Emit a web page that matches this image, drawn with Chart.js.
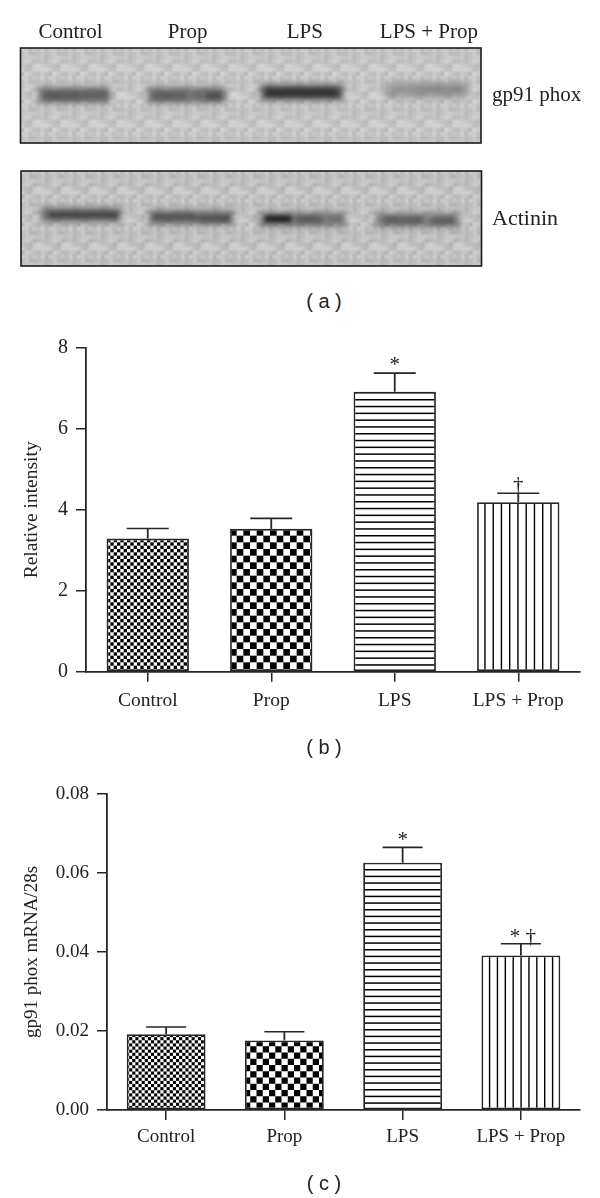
<!DOCTYPE html>
<html><head><meta charset="utf-8">
<style>
html,body{margin:0;padding:0;background:#fff;width:600px;height:1198px;overflow:hidden}
canvas{position:absolute;left:0}
.t{position:absolute;color:#222;white-space:nowrap;line-height:1}
.s{font-family:"Liberation Serif",serif;font-size:21px}
.c{font-family:"Liberation Sans",sans-serif;font-size:20px;transform:translateX(-50%)}
</style>
<script src="https://cdn.jsdelivr.net/npm/chart.js@4"></script>
</head><body>
<canvas id="blotA" style="top:0"></canvas>
<canvas id="blotB" style="top:150px"></canvas>
<canvas id="chartB" style="top:330px"></canvas>
<canvas id="chartC" style="top:780px"></canvas>
<div class="t s" style="left:492px;top:84px">gp91 phox</div>
<div class="t s" style="left:492px;top:207px;font-size:22px">Actinin</div>
<div class="t c" style="left:324px;top:291px">( a )</div>
<div class="t c" style="left:324px;top:737px">( b )</div>
<div class="t c" style="left:324px;top:1173px">( c )</div>
<script>
// ---------- data ----------
const categories = ['Control', 'Prop', 'LPS', 'LPS + Prop'];

const intensityMeans = [3.29, 3.53, 6.92, 4.19];
const intensityUpper = [3.54, 3.79, 7.38, 4.41];
const intensityMarks = ['', '', '*', '†'];
const intensityTicks = [0, 2, 4, 6, 8];

const mrnaMeans = [0.0192, 0.0176, 0.0626, 0.0391];
const mrnaUpper = [0.0210, 0.0198, 0.0665, 0.0421];
const mrnaMarks = ['', '', '*', '* †'];
const mrnaTicks = [0, 0.02, 0.04, 0.06, 0.08];

// blot lanes: lane position of each header label, then [start, end] of each band
const laneLabelPositions = [50, 167, 284, 408];
const gpBandExtents = [[18, 89], [127, 205], [240, 322], [365, 446]];
const gpBandMigration = [47, 47, 43, 40];
const gpCoreExtents = [[24, 60], [62, 86], [132, 165], [175, 188], [186, 200], [246, 316], [395, 440]];
const gpCoreMigration = [48, 47, 48, 47, 48, 43, 38];
const actBandExtents = [[20, 100], [128, 212], [238, 324], [354, 438]];
const actBandMigration = [42, 46, 49, 50];
const actCoreExtents = [[28, 96], [132, 175], [178, 208], [244, 270], [275, 300], [362, 400], [410, 432]];
const actCoreMigration = [42, 45, 48, 48, 49, 50, 51];

// ---------- styling helpers ----------
const INK = '#262626';
const SERIF = '"Liberation Serif", serif';

// tiles are whole native pixels so that the hatching keeps an even rhythm
function tile(w, h, ox, oy, paint) {
  const c = document.createElement('canvas');
  c.width = w; c.height = h;
  const g = c.getContext('2d');
  g.fillStyle = '#fff'; g.fillRect(0, 0, w, h);
  g.fillStyle = '#000'; paint(g);
  const p = g.createPattern(c, 'repeat');
  p.setTransform(new DOMMatrix().translate(Math.round(ox), Math.round(oy)));
  return p;
}
const checker = (size, periods, ox, oy) => tile(size, size, ox, oy, g => {
  const s = size / periods / 2;
  for (let a = 0; a < periods * 2; a++) for (let b = 0; b < periods * 2; b++) {
    if ((a + b) % 2 === 0) g.fillRect(a * s, b * s, s, s);
  }
});
const hLines = (size, periods, oy, lw) => tile(4, size, 0, oy, g => {
  for (let a = 0; a < periods; a++) g.fillRect(0, a * size / periods, 4, lw);
});
const vLines = (size, periods, ox, lw) => tile(size, 4, ox, 0, g => {
  for (let a = 0; a < periods; a++) g.fillRect(a * size / periods, 0, lw, 4);
});

const errorBarPlugin = {
  id: 'errorBars',
  afterDatasetsDraw(chart, args, o) {
    const { ctx, scales: { y } } = chart, bars = chart.getDatasetMeta(0).data;
    ctx.save();
    ctx.strokeStyle = INK; ctx.fillStyle = '#222';
    ctx.font = o.markFont; ctx.textAlign = 'center'; ctx.textBaseline = 'alphabetic';
    bars.forEach((bar, i) => {
      const top = y.getPixelForValue(o.upper[i]);
      ctx.lineWidth = 1.8;
      ctx.beginPath(); ctx.moveTo(bar.x, bar.y); ctx.lineTo(bar.x, top); ctx.stroke();
      ctx.lineWidth = 1.6;
      ctx.beginPath(); ctx.moveTo(bar.x - o.cap, top); ctx.lineTo(bar.x + o.cap, top); ctx.stroke();
      if (o.marks[i]) ctx.fillText(o.marks[i], bar.x + (o.marks[i].length > 1 ? 2 : 0), top - o.gap);
    });
    ctx.restore();
  }
};

function barChart(id, height, frame, cfg) {
  const el = document.getElementById(id);
  el.width = 600; el.height = height;
  return new Chart(el, {
    type: 'bar',
    plugins: [errorBarPlugin],
    data: {
      labels: categories,
      datasets: [{
        data: cfg.values,
        backgroundColor: cfg.patterns,
        borderColor: INK,
        borderWidth: 1.8,
        borderSkipped: false,
        barPercentage: 2 / 3,
        categoryPercentage: 1
      }]
    },
    options: {
      responsive: false, animation: false, devicePixelRatio: 1,
      layout: { padding: { top: frame.top, right: 20, left: 0, bottom: 0 } },
      plugins: {
        legend: { display: false }, tooltip: { enabled: false },
        errorBars: { upper: cfg.upper, marks: cfg.marks, cap: cfg.cap, gap: cfg.markGap, markFont: `${cfg.markSize}px ${SERIF}` }
      },
      scales: {
        x: {
          afterFit(s) { s.height = frame.xHeight; s.paddingLeft = 0; s.paddingRight = 0; },
          grid: { offset: false, drawOnChartArea: false, drawTicks: true, tickLength: 10, tickColor: INK, lineWidth: 1.5 },
          border: { color: INK, width: 1.8 },
          ticks: { color: '#222', font: { family: SERIF, size: cfg.fontSize }, padding: cfg.xPad, maxRotation: 0 }
        },
        y: {
          min: cfg.ticks[0], max: cfg.ticks[cfg.ticks.length - 1],
          afterFit(s) { s.width = frame.yWidth; s.paddingTop = 0; s.paddingBottom = 0; },
          afterBuildTicks(s) { s.ticks = cfg.ticks.map(value => ({ value })); },
          grid: { drawOnChartArea: false, tickLength: 10, tickColor: INK, lineWidth: 1.5 },
          border: { color: INK, width: 1.8 },
          ticks: { color: '#222', font: { family: SERIF, size: cfg.tickSize }, padding: 8,
                   callback: cfg.format },
          title: { display: true, text: cfg.yTitle, color: '#222',
                   padding: { top: cfg.titlePad, bottom: 0 },
                   font: { family: SERIF, size: cfg.titleSize } }
        }
      }
    }
  });
}

barChart('chartB', 427, { top: 18, xHeight: 85.3, yWidth: 86 }, {
  values: intensityMeans, upper: intensityUpper, marks: intensityMarks, ticks: intensityTicks,
  patterns: [checker(20, 3, 107, 209), checker(40, 3, 230, 199), hLines(34, 5, 69, 1.5), vLines(33, 4, 476, 1.4)],
  cap: 21, markSize: 21, markGap: 2, xPad: 7, fontSize: 19.5, tickSize: 20, titleSize: 19.5, titlePad: 20,
  yTitle: 'Relative intensity', format: v => String(v)
});

barChart('chartC', 413, { top: 14, xHeight: 83, yWidth: 107 }, {
  values: mrnaMeans, upper: mrnaUpper, marks: mrnaMarks, ticks: mrnaTicks,
  patterns: [checker(25, 4, 126, 254), checker(25, 2, 244, 260), hLines(20, 3, 89, 1.5), vLines(63, 8, 481, 1.4)],
  cap: 20, markSize: 21, markGap: 1, xPad: 6, fontSize: 19, tickSize: 19, titleSize: 19, titlePad: 21,
  yTitle: 'gp91 phox mRNA/28s', format: v => v.toFixed(2)
});

// ---------- blots ----------
const mottle = [
  [ 6,-8, 4,12,-5, 2,-10],
  [-3,10,-7, 1, 8,-12, 5],
  [11,-4, 2,-9, 3, 7,-2],
  [-6, 3, 9,-2,-11, 4, 8],
  [ 2,-10, 6, 5,-3,-7, 10],
  [ 8, 1,-5,-8, 12,-1,-4],
  [-9, 5,-1, 7,-6, 9, 0]
];
function blotTexture(base) {
  return {
    id: 'blotTexture',
    beforeDatasetsDraw(chart) {
      const { ctx, chartArea: a } = chart, cell = 4;
      ctx.save();
      ctx.beginPath(); ctx.rect(a.left, a.top, a.right - a.left, a.bottom - a.top); ctx.clip();
      ctx.fillStyle = `rgb(${base},${base},${base})`;
      ctx.fillRect(a.left, a.top, a.right - a.left, a.bottom - a.top);
      ctx.filter = 'blur(0.8px)';
      for (let j = -1; j * cell < a.bottom - a.top + cell; j++) {
        for (let i = -1; i * cell < a.right - a.left + cell; i++) {
          const row = mottle[(j * j + i * 3 + 70) % 7];
          const v = base + row[(i * i + j * 2 + 70) % 7] * 1.6;
          ctx.fillStyle = `rgb(${v},${v},${v})`;
          ctx.fillRect(a.left + i * cell, a.top + j * cell, cell, cell);
        }
      }
      ctx.restore();
    },
    beforeDatasetDraw(chart, args) {
      chart.ctx.filter = args.index === 0 ? 'blur(3px)' : 'blur(2px)';
    },
    afterDatasetDraw(chart) { chart.ctx.filter = 'none'; },
    afterDatasetsDraw(chart) {
      const { ctx, chartArea: a } = chart;
      ctx.save();
      ctx.strokeStyle = '#1c1c1c'; ctx.lineWidth = 1.6;
      ctx.strokeRect(a.left, a.top, a.right - a.left, a.bottom - a.top);
      ctx.restore();
    }
  };
}
function blot(id, height, pad, cfg) {
  const el = document.getElementById(id);
  el.width = 600; el.height = height;
  const pts = (ext, mig) => ext.map((x, i) => ({ x, y: mig[i] }));
  return new Chart(el, {
    type: 'bar',
    plugins: [blotTexture(cfg.base)],
    data: {
      datasets: [
        { data: pts(cfg.bands, cfg.bandY), backgroundColor: cfg.bandColors, barThickness: cfg.bandH, borderWidth: 0, grouped: false, order: 2 },
        { data: pts(cfg.cores, cfg.coreY), backgroundColor: cfg.coreColors, barThickness: cfg.coreH, borderWidth: 0, grouped: false, order: 1 }
      ]
    },
    options: {
      indexAxis: 'y', responsive: false, animation: false, devicePixelRatio: 1,
      layout: { padding: pad },
      plugins: { legend: { display: false }, tooltip: { enabled: false } },
      scales: {
        x: {
          type: 'linear', min: 0, max: 460, position: 'top', display: true,
          grid: { display: false }, border: { display: false },
          afterFit(s) { s.height = cfg.headH; s.paddingLeft = 0; s.paddingRight = 0; },
          afterBuildTicks(s) { s.ticks = cfg.labelAt.map(value => ({ value })); },
          ticks: { display: cfg.headH > 0, autoSkip: false, maxRotation: 0, color: '#222', padding: -5,
                   font: { family: SERIF, size: 21 },
                   callback: (v, i) => categories[i] }
        },
        y: { type: 'linear', min: 0, max: 95, reverse: true, display: false }
      }
    }
  });
}
blot('blotA', 150, { left: 20.5, right: 119, top: 0, bottom: 7 }, {
  base: 200, bands: gpBandExtents, bandY: gpBandMigration, cores: gpCoreExtents, coreY: gpCoreMigration,
  bandH: 15, coreH: 7, headH: 48, labelAt: laneLabelPositions,
  bandColors: ['rgba(80,80,80,.75)', 'rgba(85,85,85,.75)', 'rgba(55,55,55,.8)', 'rgba(120,120,120,.6)'],
  coreColors: ['rgba(70,70,70,.5)', 'rgba(80,80,80,.45)', 'rgba(75,75,75,.5)', 'rgba(90,90,90,.3)', 'rgba(55,55,55,.6)', 'rgba(35,35,35,.7)', 'rgba(110,110,110,.3)']
});
blot('blotB', 120, { left: 21, right: 118.5, top: 21, bottom: 4 }, {
  base: 196, bands: actBandExtents, bandY: actBandMigration, cores: actCoreExtents, coreY: actCoreMigration,
  bandH: 14, coreH: 6, headH: 0, labelAt: [],
  bandColors: ['rgba(80,80,80,.72)', 'rgba(80,80,80,.72)', 'rgba(80,80,80,.68)', 'rgba(90,90,90,.68)'],
  coreColors: ['rgba(45,45,45,.6)', 'rgba(55,55,55,.5)', 'rgba(55,55,55,.55)', 'rgba(15,15,15,.85)', 'rgba(60,60,60,.5)', 'rgba(60,60,60,.5)', 'rgba(60,60,60,.5)']
});
</script>
</body></html>
